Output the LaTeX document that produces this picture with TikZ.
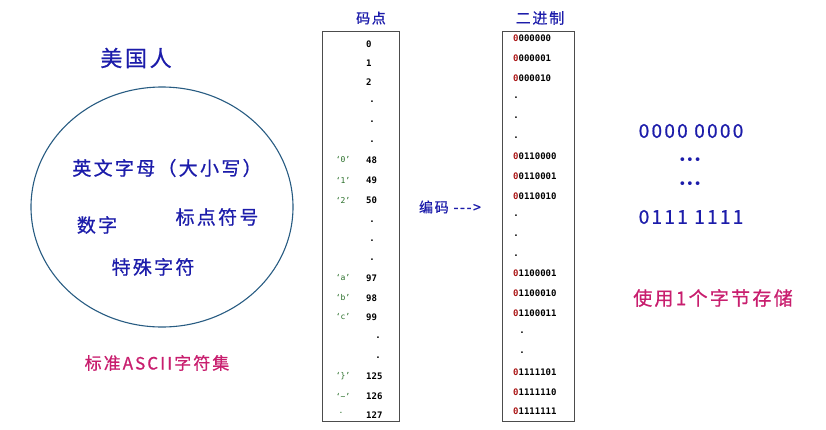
\documentclass[tikz,border=0pt]{standalone}
\usepackage{fontspec}
\usepackage{xcolor}
\setmainfont{Noto Sans CJK SC}
\setmonofont{DejaVu Sans Mono}
\newfontfamily\cjkwide[LetterSpace=12, FakeBold=0.8]{Noto Sans CJK SC}
\newfontfamily\symfont{DejaVu Sans}
\usetikzlibrary{positioning, shapes.geometric}

\definecolor{inkblue}{RGB}{28,28,170}
\definecolor{inkpink}{RGB}{200,30,110}
\definecolor{ringblue}{RGB}{40,92,130}
\definecolor{chargreen}{RGB}{40,110,40}
\definecolor{bitred}{RGB}{170,20,20}

\newcommand{\fsz}[1]{\fontsize{#1}{#1}\selectfont}
\newcommand{\bitrow}[1]{\textcolor{bitred}{0}#1}

\begin{document}
\begin{tikzpicture}[
    x=1pt, y=-1pt,
    handtxt/.style={text=inkblue, font=\cjkwide\fsz{19}, inner sep=0pt},
    pinktxt/.style={text=inkpink, font=\cjkwide\fsz{17}, inner sep=0pt},
    coltitle/.style={text=inkblue, font=\cjkwide\fsz{14}, inner sep=0pt},
    colbox/.style={rectangle, draw=black!70, line width=0.9pt, inner sep=0pt},
    codetxt/.style={font=\ttfamily\bfseries\fsz{9}, anchor=west, inner sep=0pt},
    chartxt/.style={font=\ttfamily\fsz{8}, text=chargreen, inner sep=0pt},
    dotmark/.style={font=\ttfamily\bfseries\fsz{9}, inner sep=0pt}
]
\useasboundingbox (0,0) rectangle (826,429);

% left: character set
\node[handtxt, font=\cjkwide\fsz{22}] (american) at (136,58) {美国人};
\node[ellipse, draw=ringblue, line width=1.1pt, minimum width=262, minimum height=240] (charset) at (162,207) {};
\node[handtxt] (letters) at (167,168) {英文字母（大小写）};
\node[handtxt] (digits) at (97,225) {数字};
\node[handtxt] (punct) at (217,217) {标点符号};
\node[handtxt] (special) at (153,267) {特殊字符};
\node[pinktxt] (asciiset) at (157,363) {标准ASCII字符集};

% code points
\node[coltitle] (cptitle) at (371,18) {码点};
\node[colbox, minimum width=77, minimum height=390] (cpbox) at (360.5,226) {};
\foreach \y/\t in {44/0,63/1,82/2,160/48,180/49,200/50,278/97,298/98,317/99,376/125,396/126,415/127}
    \node[codetxt] (cp-\t) at (366,\y) {\t};
\foreach \x/\y [count=\i] in {372/102,372/122,372/142,372/222,372/241,372/260,378/338,378/358}
    \node[dotmark] (cpdot-\i) at (\x,\y) {.};
\node[chartxt] (ch-0) at (343,160) {‘0’};
\node[chartxt] (ch-1) at (343,180) {‘1’};
\node[chartxt] (ch-2) at (343,200) {‘2’};
\node[chartxt] (ch-a) at (343,278) {‘a’};
\node[chartxt] (ch-b) at (343,298) {‘b’};
\node[chartxt] (ch-c) at (343,317) {‘c’};
\node[chartxt] (ch-rb) at (343,376) {‘\}’};
\node[chartxt] (ch-tl) at (343,396) {‘\char`\~’};
\node[chartxt] (ch-del) at (341,413) {.};

% encoding
\node[coltitle] (encode) at (450,207) {编码 -{}-{}->};

% binary
\node[coltitle, font=\cjkwide\fsz{15}] (bintitle) at (540,18) {二进制};
\node[colbox, minimum width=72, minimum height=390] (binbox) at (538,226) {};
\foreach \y/\b [count=\i] in {38/000000,58/000001,78/000010,156/0110000,176/0110001,196/0110010,273/1100001,293/1100010,313/1100011,372/1111101,392/1111110,411/1111111}
    \node[codetxt] (bin-\i) at (513,\y) {\bitrow{\b}};
\foreach \x/\y [count=\i] in {516/98,516/118,516/138,516/216,516/236,516/256,522/333,522/353}
    \node[dotmark] (bindot-\i) at (\x,\y) {.};

% right: one byte
\node[handtxt, font=\cjkwide\fsz{19}] (bytetop) at (691,131) {0000 0000};
\node[text=inkblue, font=\symfont\fsz{13}, inner sep=0pt] (vdots1) at (690,161) {•••};
\node[text=inkblue, font=\symfont\fsz{13}, inner sep=0pt] (vdots2) at (690,185) {•••};
\node[handtxt, font=\cjkwide\fsz{19}] (bytebot) at (691,217) {0111 1111};
\node[pinktxt, font=\cjkwide\fsz{19}] (onebyte) at (713,298) {使用1个字节存储};

\end{tikzpicture}
\end{document}
